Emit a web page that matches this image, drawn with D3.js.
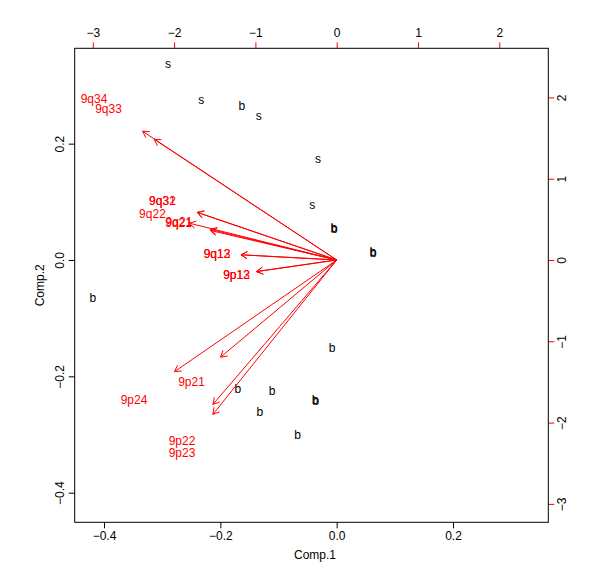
<!DOCTYPE html>
<html>
<head>
<meta charset="utf-8">
<script src="https://cdn.jsdelivr.net/npm/d3@7"></script>
<style>
  html, body { margin: 0; padding: 0; background: #fff; }
  svg text { font-family: "Liberation Sans", Arial, Helvetica, sans-serif; }
</style>
</head>
<body>
<svg id="chart" width="600" height="573"></svg>
<script>
// ---- Data ----
// Scores (black labels), in Comp.1 / Comp.2 units
const scoreLabels = ["s","s","b","s","s","s","b","b","b","b","b","b","b","b","b","b","b","b"];
const scoreX = [-0.290,-0.233,-0.163,-0.134,-0.032,-0.042,-0.005,-0.004,0.062,0.063,-0.419,-0.008,-0.170,-0.111,-0.037,-0.036,-0.132,-0.067];
const scoreY = [0.337,0.275,0.265,0.248,0.174,0.095,0.055,0.054,0.014,0.013,-0.065,-0.151,-0.222,-0.224,-0.241,-0.242,-0.261,-0.301];

// Loadings (red arrows + labels), in secondary-axis units
const varNames = ["9q34","9q33","9q32","9q31","9q22","9q21","9q21","9q13","9q12","9p13","9p12","9p21","9p24","9p22","9p23"];
const loadX = [-2.985,-2.807,-2.143,-2.143,-2.266,-1.946,-1.940,-1.472,-1.472,-1.232,-1.232,-1.786,-2.493,-1.903,-1.903];
const loadY = [1.980,1.857,0.732,0.732,0.566,0.455,0.470,0.080,0.080,-0.178,-0.178,-1.494,-1.716,-2.220,-2.374];

// Tick values
const xTicks = [-0.4,-0.2,0.0,0.2];
const yTicks = [-0.4,-0.2,0.0,0.2];
const topTicks = [-3,-2,-1,0,1,2];
const rightTicks = [-3,-2,-1,0,1,2];

const xTitle = "Comp.1";
const yTitle = "Comp.2";

// ---- Layout ----
const L = 74.7, R = 548.3, T = 48.3, B = 522.3;
const svg = d3.select("#chart");
svg.append("rect").attr("width",600).attr("height",573).attr("fill","#fff");

const x1 = d3.scaleLinear().domain([-0.4504, 0.3638]).range([L, R]);
const y1 = d3.scaleLinear().domain([-0.4509, 0.3639]).range([B, T]);
const x2 = d3.scaleLinear().domain([-3.2226, 2.6027]).range([L, R]);
const y2 = d3.scaleLinear().domain([-3.2263, 2.6039]).range([B, T]);

const fmt1 = d3.format(".1f");
const fs = 12;

function styleAxis(g, color) {
  g.select(".domain").remove();
  g.selectAll(".tick line").attr("stroke", color).attr("stroke-width", 1);
  g.selectAll(".tick text").attr("fill", "#000").attr("font-size", fs)
    .attr("font-family", null);
}

// bottom
const gB = svg.append("g").attr("transform", `translate(0,${B})`)
  .call(d3.axisBottom(x1).tickValues(xTicks).tickFormat(fmt1).tickSize(6));
styleAxis(gB, "#000");
gB.selectAll(".tick text").attr("y", 13.7).attr("dy", "0.35em").attr("text-anchor","middle");

// left
const gL = svg.append("g").attr("transform", `translate(${L},0)`)
  .call(d3.axisLeft(y1).tickValues(yTicks).tickFormat(fmt1).tickSize(6));
styleAxis(gL, "#000");
gL.selectAll(".tick text").attr("x", 0).attr("y", 0).attr("dy", "0.35em")
  .attr("text-anchor","middle").attr("transform", "translate(-15.4,0) rotate(-90)");

// top (red ticks)
const gT = svg.append("g").attr("transform", `translate(0,${T})`)
  .call(d3.axisTop(x2).tickValues(topTicks).tickFormat(d3.format("d")).tickSize(6));
styleAxis(gT, "#ff0000");
gT.selectAll(".tick text").attr("y", -15.6).attr("dy", "0.35em").attr("text-anchor","middle");

// right (red ticks)
const gR = svg.append("g").attr("transform", `translate(${R},0)`)
  .call(d3.axisRight(y2).tickValues(rightTicks).tickFormat(d3.format("d")).tickSize(6));
styleAxis(gR, "#ff0000");
gR.selectAll(".tick text").attr("x", 0).attr("y", 0).attr("dy", "0.35em")
  .attr("text-anchor","middle").attr("transform", "translate(13.4,0) rotate(-90)");

// box
svg.append("rect").attr("x", L).attr("y", T).attr("width", R - L).attr("height", B - T)
  .attr("fill", "none").attr("stroke", "#000").attr("stroke-width", 1);

// axis titles
svg.append("text").attr("x", 315).attr("y", 555).attr("dy","0.35em")
  .attr("text-anchor","middle").attr("font-size", fs).text(xTitle);
svg.append("text").attr("transform", "translate(39.3,285.3) rotate(-90)").attr("dy","0.35em")
  .attr("text-anchor","middle").attr("font-size", fs).text(yTitle);

// scores
svg.append("g").selectAll("text").data(scoreLabels).join("text")
  .attr("x", (d,i) => x1(scoreX[i])).attr("y", (d,i) => y1(scoreY[i]))
  .attr("dy","0.35em").attr("text-anchor","middle").attr("font-size", fs)
  .attr("fill","#000").text(d => d);

// loadings labels
svg.append("g").selectAll("text").data(varNames).join("text")
  .attr("x", (d,i) => x2(loadX[i])).attr("y", (d,i) => y2(loadY[i]))
  .attr("dy","0.35em").attr("text-anchor","middle").attr("font-size", fs)
  .attr("fill","#ff0000").text(d => d);

// arrows to 0.8 of loadings
const ox = x2(0), oy = y2(0);
const head = 7.2, ang = Math.PI / 6;
const ga = svg.append("g").attr("stroke","#ff0000").attr("stroke-width",1).attr("fill","none");
varNames.forEach((n, i) => {
  const tx = x2(0.8 * loadX[i]), ty = y2(0.8 * loadY[i]);
  const a = Math.atan2(ty - oy, tx - ox);
  const p = d3.path();
  p.moveTo(ox, oy); p.lineTo(tx, ty);
  p.moveTo(tx - head * Math.cos(a - ang), ty - head * Math.sin(a - ang));
  p.lineTo(tx, ty);
  p.lineTo(tx - head * Math.cos(a + ang), ty - head * Math.sin(a + ang));
  ga.append("path").attr("d", p.toString());
});
</script>
</body>
</html>
